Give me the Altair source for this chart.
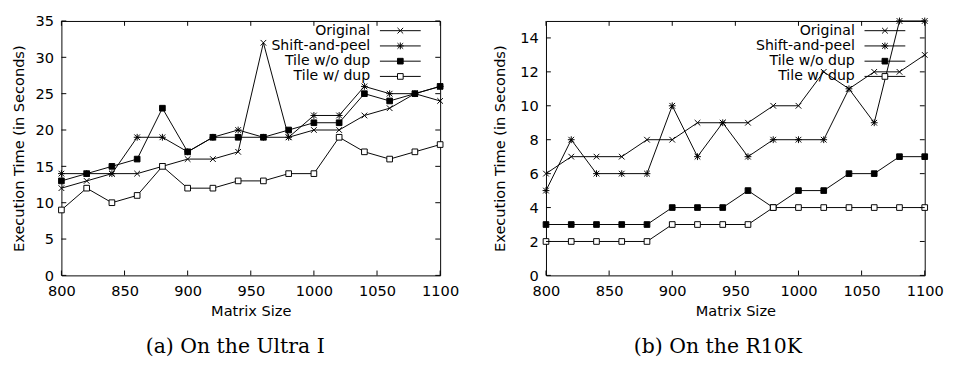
import altair as alt
import pandas as pd

# ---------------- data ----------------
matrix_sizes = [800, 820, 840, 860, 880, 900, 920, 940, 960, 980, 1000, 1020, 1040, 1060, 1080, 1100]
series_names = ["Original", "Shift-and-peel", "Tile w/o dup", "Tile w/ dup"]

ultra_original = [12, 13, 14, 14, 15, 16, 16, 17, 32, 19, 20, 20, 22, 23, 25, 24]
ultra_shift = [14, 14, 14, 19, 19, 17, 19, 20, 19, 19, 22, 22, 26, 25, 25, 26]
ultra_tile_nodup = [13, 14, 15, 16, 23, 17, 19, 19, 19, 20, 21, 21, 25, 24, 25, 26]
ultra_tile_dup = [9, 12, 10, 11, 15, 12, 12, 13, 13, 14, 14, 19, 17, 16, 17, 18]

r10k_original = [6, 7, 7, 7, 8, 8, 9, 9, 9, 10, 10, 12, 11, 12, 12, 13]
r10k_shift = [5, 8, 6, 6, 6, 10, 7, 9, 7, 8, 8, 8, 11, 9, 15, 15]
r10k_tile_nodup = [3, 3, 3, 3, 3, 4, 4, 4, 5, 4, 5, 5, 6, 6, 7, 7]
r10k_tile_dup = [2, 2, 2, 2, 2, 3, 3, 3, 3, 4, 4, 4, 4, 4, 4, 4]

x_ticks = [800, 850, 900, 950, 1000, 1050, 1100]
ultra_y_ticks = [0, 5, 10, 15, 20, 25, 30, 35]
r10k_y_ticks = [0, 2, 4, 6, 8, 10, 12, 14]

captions = ["(a) On the Ultra I", "(b) On the R10K"]
x_title = "Matrix Size"
y_title = "Execution Time (in Seconds)"

# ---------------- styling ----------------
W, H = 390, 262
TICK = 5
SANS = "DejaVu Sans"
SERIF = "DejaVu Serif"
cross = "M-1,-1L1,1M-1,1L1,-1"
star = "M-1,-1L1,1M-1,1L1,-1M0,-1.2L0,1.2M-1.2,0L1.2,0"
shape_scale = alt.Scale(domain=series_names, range=[cross, star, "square", "square"])
fill_scale = alt.Scale(domain=series_names, range=["black", "black", "black", "white"])


def panel(series_lists, y_max, y_ticks, caption, title_pad):
    rows = []
    for name, vals in zip(series_names, series_lists):
        for s, v in zip(matrix_sizes, vals):
            rows.append({"size": s, "time": v, "series": name})
    df = pd.DataFrame(rows)

    xs = alt.Scale(domain=[800, 1100], nice=False, zero=False)
    ys = alt.Scale(domain=[0, y_max], nice=False, zero=False)
    x_axis = alt.Axis(values=x_ticks, title=x_title, format="d")
    y_axis = alt.Axis(values=y_ticks, title=y_title, titlePadding=title_pad)

    base = alt.Chart(df)
    lines = base.mark_line(color="black", strokeWidth=1).encode(
        x=alt.X("size:Q", scale=xs, axis=x_axis, title=x_title),
        y=alt.Y("time:Q", scale=ys, axis=y_axis, title=y_title),
        detail="series:N",
    )
    points = base.mark_point(stroke="black", strokeWidth=1, size=34, opacity=1).encode(
        x=alt.X("size:Q", scale=xs, axis=x_axis, title=x_title),
        y=alt.Y("time:Q", scale=ys, axis=y_axis, title=y_title),
        shape=alt.Shape("series:N", scale=shape_scale, legend=None),
        fill=alt.Fill("series:N", scale=fill_scale, legend=None),
    )

    xt = alt.Chart(pd.DataFrame({"v": x_ticks}))
    yt = alt.Chart(pd.DataFrame({"v": y_ticks}))
    xenc = alt.X("v:Q", scale=xs, axis=x_axis, title=x_title)
    yenc = alt.Y("v:Q", scale=ys, axis=y_axis, title=y_title)
    tick_b = xt.mark_rule(color="black", strokeWidth=1).encode(
        x=xenc, y=alt.value(H), y2=alt.value(H - TICK))
    tick_t = xt.mark_rule(color="black", strokeWidth=1).encode(
        x=xenc, y=alt.value(0), y2=alt.value(TICK))
    tick_l = yt.mark_rule(color="black", strokeWidth=1).encode(
        y=yenc, x=alt.value(0), x2=alt.value(TICK))
    tick_r = yt.mark_rule(color="black", strokeWidth=1).encode(
        y=yenc, x=alt.value(W), x2=alt.value(W - TICK))

    leg = alt.Chart(pd.DataFrame({"series": series_names, "i": [0, 1, 2, 3]})).transform_calculate(
        ly="10 + 15.7 * datum.i")
    leg_text = leg.mark_text(align="right", baseline="middle", font=SANS, fontSize=14.5,
                             color="black").encode(
        x=alt.value(318), y=alt.Y("ly:Q", scale=None), text="series:N")
    leg_rule = leg.mark_rule(color="black", strokeWidth=1).encode(
        x=alt.value(328), x2=alt.value(370), y=alt.Y("ly:Q", scale=None))
    leg_pt = leg.mark_point(stroke="black", strokeWidth=1, size=34, opacity=1).encode(
        x=alt.value(349), y=alt.Y("ly:Q", scale=None),
        shape=alt.Shape("series:N", scale=shape_scale, legend=None),
        fill=alt.Fill("series:N", scale=fill_scale, legend=None),
    )

    return alt.layer(lines, points, tick_b, tick_t, tick_l, tick_r,
                     leg_rule, leg_pt, leg_text).properties(
        width=W, height=H,
        title=alt.TitleParams(caption, orient="bottom", font=SERIF, fontSize=21,
                              fontWeight="normal", color="black", offset=19,
                              frame="bounds", anchor="middle"),
    )


left = panel([ultra_original, ultra_shift, ultra_tile_nodup, ultra_tile_dup],
             35, ultra_y_ticks, captions[0], 9)
right = panel([r10k_original, r10k_shift, r10k_tile_nodup, r10k_tile_dup],
              15, r10k_y_ticks, captions[1], 13)

chart = alt.hconcat(left, right, spacing=33).properties(
    padding={"left": 3, "top": 0, "right": 5, "bottom": 5}
).configure_view(
    stroke="black", strokeWidth=1
).configure_axis(
    domain=False, grid=False, ticks=False,
    labelFont=SANS, labelFontSize=15, labelColor="black", labelPadding=7,
    titleFont=SANS, titleFontSize=15, titleFontWeight="normal", titleColor="black",
).configure_axisX(labelPadding=9, titlePadding=5, labelFlush=False, labelOverlap=False
).configure_axisY(labelPadding=8, labelOverlap=False)

chart.save("out.html", embed_options={"renderer": "svg", "actions": False})
